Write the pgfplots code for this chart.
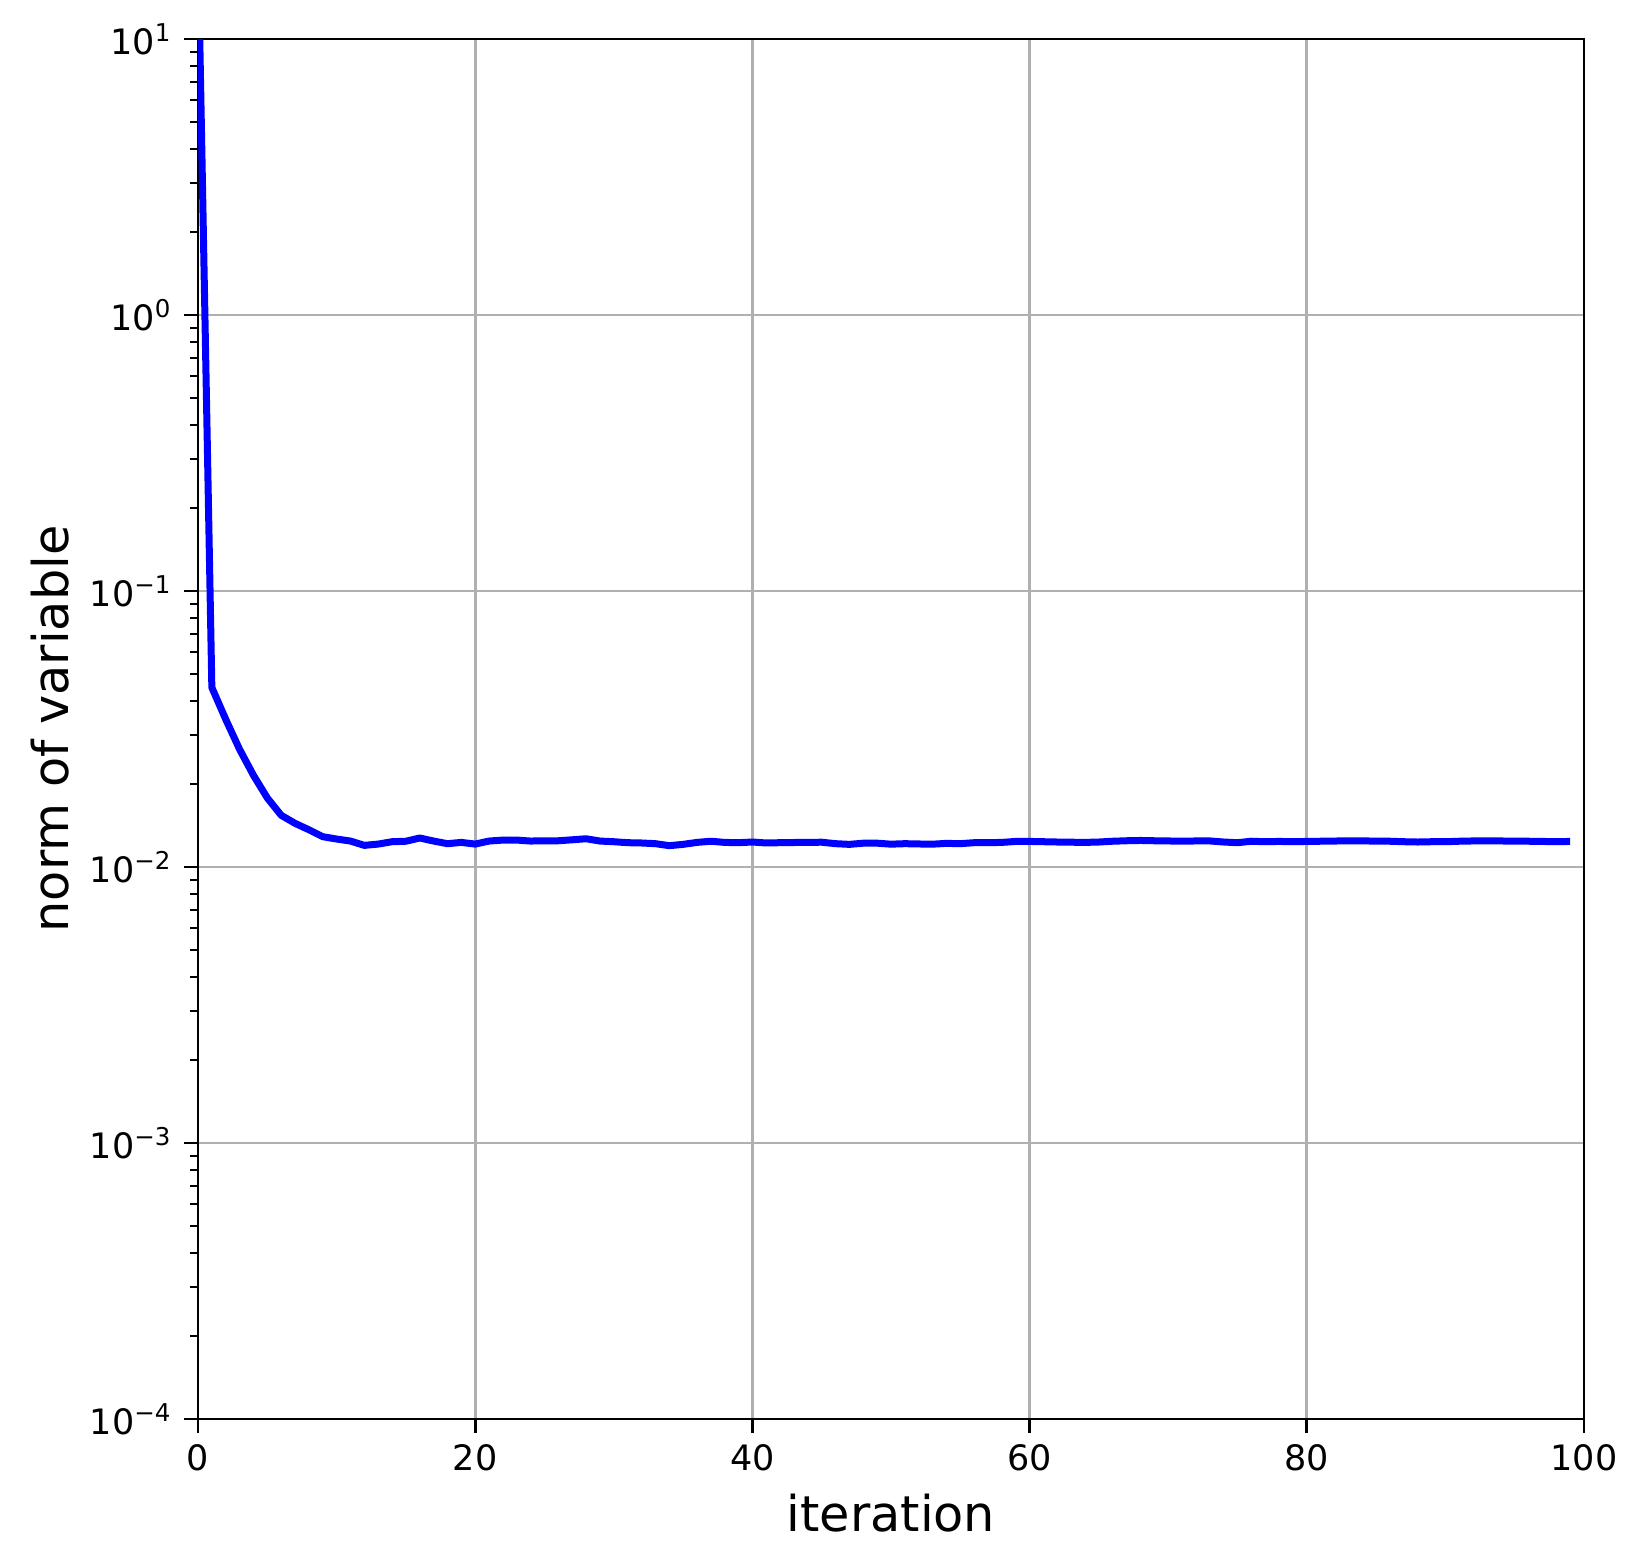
\documentclass[border=0pt]{standalone}
\usepackage{fontspec}
\setmainfont{DejaVu Sans}
\usepackage{pgfplots}
\pgfplotsset{compat=1.18}
\definecolor{gridgray}{HTML}{B0B0B0}
\begin{document}
\begin{tikzpicture}
\begin{axis}[
  scale only axis,
  width=415.8pt, height=414pt,
  ymode=log,
  xmin=0, xmax=100, ymin=1e-4, ymax=10,
  xtick={0,20,...,100},
  ytick={1e-4,1e-3,1e-2,1e-1,1,10},
  yticklabels={10\textsuperscript{−4},10\textsuperscript{−3},10\textsuperscript{−2},10\textsuperscript{−1},10\textsuperscript{0},10\textsuperscript{1}},
  /pgf/number format/assume math mode=true,
  tick label style={font=\fontsize{10.5}{12}\selectfont},
  tick align=outside,
  tick pos=left,
  major tick length=4.2pt,
  minor tick length=2.4pt,
  every tick/.style={black, line width=0.8pt},
  minor tick style={line width=0.6pt},
  axis line style={line width=0.8pt},
  grid=major,
  major grid style={gridgray, line width=0.8pt},
  xlabel={iteration},
  ylabel={norm of variable},
  label style={font=\fontsize{14.8}{17}\selectfont},
  xlabel style={at={(axis description cs:0.5,-0.068)}, anchor=center},
  ylabel style={at={(axis description cs:-0.107,0.5)}, anchor=center},
]
\addplot[blue, line width=2.1pt, line join=round] coordinates {
(0,22) (1,0.0447) (2,0.0343) (3,0.0267) (4,0.0215) (5,0.0178) (6,0.0154) (7,0.0144) (8,0.01365) (9,0.01288)
(10,0.01263) (11,0.01242) (12,0.01198) (13,0.01211) (14,0.01235) (15,0.01240) (16,0.01274) (17,0.01242) (18,0.01215) (19,0.01228)
(20,0.01211) (21,0.01242) (22,0.01252) (23,0.01252) (24,0.01242) (25,0.01245) (26,0.01245) (27,0.01255) (28,0.01266) (29,0.01242)
(30,0.01235) (31,0.01225) (32,0.01222) (33,0.01215) (34,0.01195) (35,0.01208) (36,0.01228) (37,0.01240) (38,0.01228) (39,0.01225)
(40,0.01232) (41,0.01222) (42,0.01225) (43,0.01227) (44,0.01228) (45,0.01230) (46,0.01215) (47,0.01208) (48,0.01220) (49,0.01220)
(50,0.01210) (51,0.01215) (52,0.01212) (53,0.01210) (54,0.01218) (55,0.01215) (56,0.01225) (57,0.01225) (58,0.01228) (59,0.01238)
(60,0.01238) (61,0.01235) (62,0.01232) (63,0.01230) (64,0.01228) (65,0.01232) (66,0.01240) (67,0.01245) (68,0.01248) (69,0.01245)
(70,0.01243) (71,0.01240) (72,0.01243) (73,0.01243) (74,0.01232) (75,0.01225) (76,0.01240) (77,0.01235) (78,0.01238) (79,0.01235)
(80,0.01238) (81,0.01240) (82,0.01242) (83,0.01245) (84,0.01243) (85,0.01242) (86,0.01240) (87,0.01235) (88,0.01232) (89,0.01235)
(90,0.01235) (91,0.01240) (92,0.01243) (93,0.01245) (94,0.01243) (95,0.01240) (96,0.01240) (97,0.01238) (98,0.01235) (99,0.01238)
};
\end{axis}
\path ([shift={(-59.4pt,-43.8pt)}]current axis.south west) rectangle ([shift={(18pt,11.7pt)}]current axis.north east);
\end{tikzpicture}
\end{document}
